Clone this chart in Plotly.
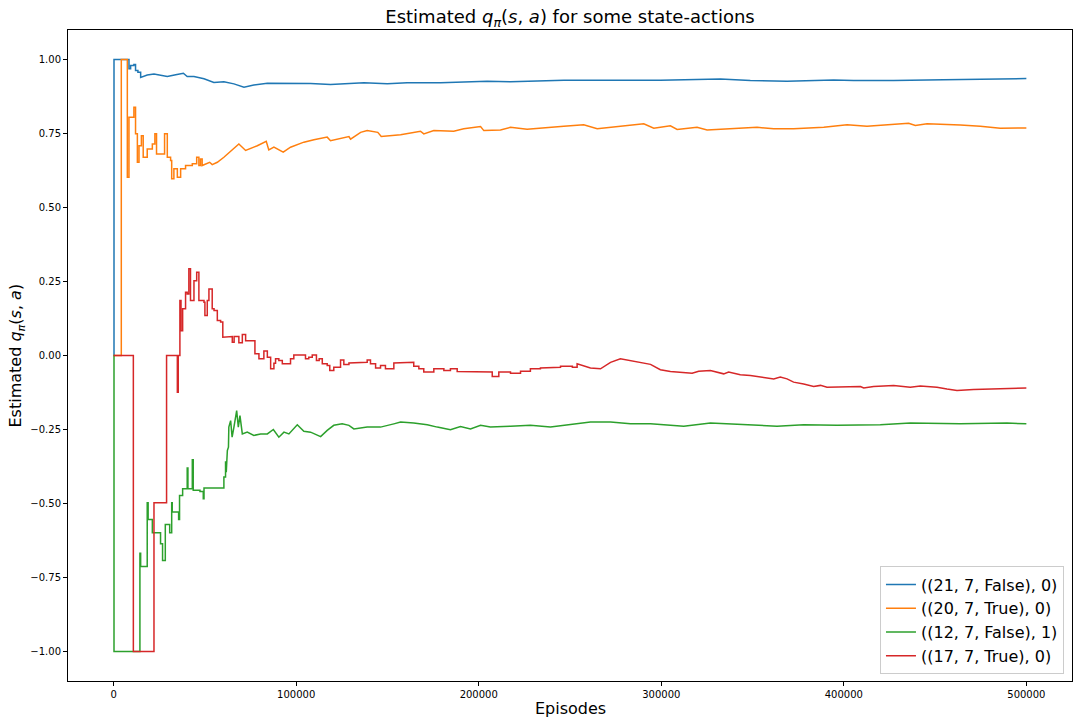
import plotly.graph_objects as go

# ---------------- data (episodes, estimated value) ----------------
labels = ["((21, 7, False), 0)", "((20, 7, True), 0)", "((12, 7, False), 1)", "((17, 7, True), 0)"]
colors = ["#1f77b4", "#ff7f0e", "#2ca02c", "#d62728"]

blue_ep = [0, 200, 8400, 9300, 11100, 12000, 13300, 14800, 18400, 22100, 25700, 29400, 34000, 38200,
           40300, 44000, 49500, 54900, 60400, 65900, 71400, 76800, 84200, 91400, 98700, 107900, 118800,
           137100, 149900, 160800, 179100, 204600, 217400, 246600, 279400, 299500, 332400, 348800,
           368900, 394400, 405400, 427300, 454700, 500000]
blue_q = [0.0, 1.0, 0.969, 0.980, 0.983, 0.963, 0.957, 0.940, 0.948, 0.951, 0.948, 0.943, 0.949, 0.954,
          0.943, 0.943, 0.935, 0.923, 0.925, 0.918, 0.907, 0.914, 0.920, 0.920, 0.921, 0.919, 0.916,
          0.922, 0.918, 0.922, 0.922, 0.927, 0.925, 0.930, 0.930, 0.930, 0.934, 0.929,
          0.927, 0.931, 0.929, 0.929, 0.932, 0.936]

orange_ep = [0, 4200, 7500, 8400, 11100, 12000, 13000, 13900, 15200, 16200, 18400, 21200, 22600, 23500,
             27900, 29400, 31200, 31800, 33000, 34900, 36700, 39400, 43100, 45500, 46700, 47600, 48500,
             52600, 54000, 56800, 60400, 64100, 68600, 72300, 76800, 78700, 83600, 85000, 87800, 92900,
             96900, 104200, 109700, 117000, 118800, 124300, 128900, 129800, 135300, 138900, 144700,
             146600, 157200, 168100, 169900, 175400, 186300, 191800, 201000, 202800, 211900, 217400,
             226500, 246600, 257500, 264900, 290400, 295900, 305000, 308700, 319600, 325100, 352500,
             361600, 372500, 389000, 401800, 412700, 435500, 439200, 445600, 463800, 474800, 485700, 500000]
orange_q = [0.0, 1.0, 0.602, 0.805, 0.839, 0.749, 0.653, 0.709, 0.743, 0.670, 0.698, 0.715, 0.749, 0.681,
            0.749, 0.670, 0.659, 0.597, 0.631, 0.602, 0.631, 0.642, 0.648, 0.670, 0.642, 0.664, 0.642,
            0.653, 0.645, 0.653, 0.670, 0.689, 0.715, 0.693, 0.704, 0.709, 0.724, 0.695, 0.704, 0.687,
            0.704, 0.721, 0.729, 0.738, 0.726, 0.734, 0.740, 0.731, 0.754, 0.760, 0.754,
            0.740, 0.746, 0.758, 0.749, 0.760, 0.758, 0.766, 0.774, 0.760, 0.762, 0.771,
            0.765, 0.775, 0.780, 0.766, 0.783, 0.768, 0.776, 0.764, 0.771, 0.762, 0.771,
            0.766, 0.766, 0.771, 0.780, 0.775, 0.785, 0.777, 0.783, 0.779, 0.775, 0.768, 0.769]

green_ep = [0, 200, 14400, 14800, 18400, 18900, 21200, 25700, 26800, 28300, 30700, 31800, 32100, 35600,
            36100, 37800, 40300, 40700, 43100, 43600, 47300, 49100, 49500, 60400, 61300, 61700, 62300,
            62900, 63100, 64100, 64900, 65900, 67400, 68300, 69200, 70500, 73200, 76800, 80500, 84200,
            87500, 90500, 93300, 96000, 98700, 100600, 104200, 107900, 113400, 117000, 120600, 125200,
            128900, 131600, 138900, 146200, 153500, 157200, 164400, 171800, 177300, 184500, 190000,
            195500, 201000, 206400, 217400, 228300, 239300, 248400, 261200, 272200, 283100, 294100,
            299500, 312300, 326900, 336100, 350600, 363400, 378000, 396300, 420000, 436400, 463800,
            489400, 500000]
green_q = [0.0, -1.0, -0.668, -0.713, -0.498, -0.554, -0.599, -0.636, -0.693, -0.571, -0.599, -0.498, -0.529, -0.554,
           -0.473, -0.450, -0.380, -0.450, -0.352, -0.455, -0.460, -0.484, -0.448, -0.411, -0.360, -0.394, -0.321,
           -0.310, -0.242, -0.220, -0.276, -0.242, -0.186, -0.242, -0.203, -0.265, -0.259, -0.270, -0.265, -0.265,
           -0.250, -0.276, -0.259, -0.265, -0.248, -0.234, -0.256, -0.259, -0.274, -0.253, -0.236, -0.231,
           -0.236, -0.248, -0.242, -0.242, -0.231, -0.225, -0.228, -0.234, -0.242, -0.251, -0.240,
           -0.248, -0.236, -0.242, -0.239, -0.236, -0.242, -0.234, -0.225, -0.225, -0.231, -0.231,
           -0.233, -0.239, -0.228, -0.231, -0.236, -0.239, -0.234, -0.236, -0.234, -0.228, -0.231,
           -0.228, -0.231]

red_ep = [0, 10800, 22100, 29000, 34900, 35400, 36300, 36900, 37800, 39400, 40300, 41200, 42100, 44000,
          45500, 46700, 49500, 50000, 51300, 52200, 54000, 55000, 56800, 58600, 59800, 62300, 65000,
          66000, 68600, 70500, 72300, 75900, 77400, 79600, 82300, 84200, 86000, 87800, 88700, 90500,
          92400, 96900, 98700, 104200, 105100, 106900, 108800, 111100, 112600, 114300, 117000, 118400,
          120600, 124300, 126100, 128900, 135300, 138900, 140700, 143500, 146200, 148900, 153500,
          160800, 164400, 167200, 169900, 175400, 180900, 184500, 188200, 202800, 207400, 211000,
          217400, 222900, 228300, 233800, 241100, 244800, 251300, 253900, 261200, 266700, 272200,
          277600, 284900, 294100, 299500, 305000, 316900, 320500, 326900, 334200, 336900, 343300,
          348800, 354300, 361600, 365200, 368900, 372500, 378000, 383500, 387200, 390800, 409100,
          410900, 416300, 427300, 436400, 441900, 451000, 456500, 462000, 471100, 482000, 493000, 500000]
red_q = [0.0, -1.0, -0.498, 0.0, -0.124, 0.0, 0.186, 0.084, 0.158, 0.214, 0.208, 0.293, 0.186, 0.253,
         0.281, 0.186, 0.180, 0.135, 0.186, 0.225, 0.158, 0.152, 0.118, 0.113, 0.062, 0.064, 0.045,
         0.064, 0.043, 0.071, 0.050, 0.050, 0.006, -0.011, 0.015, -0.006, -0.045, -0.026, -0.011, -0.017,
         -0.028, -0.011, 0.002, 0.002, -0.011, -0.006, 0.002, -0.017, -0.011, -0.028, -0.034, -0.051,
         -0.040, -0.015, -0.030, -0.025, -0.023, -0.015, -0.028, -0.042, -0.034, -0.045, -0.025,
         -0.023, -0.036, -0.045, -0.056, -0.045, -0.051, -0.045, -0.054, -0.056, -0.071, -0.056,
         -0.060, -0.053, -0.045, -0.042, -0.040, -0.036, -0.040, -0.028, -0.042, -0.045, -0.023,
         -0.011, -0.019, -0.030, -0.048, -0.054, -0.060, -0.053, -0.051, -0.062, -0.056, -0.065,
         -0.068, -0.073, -0.079, -0.073, -0.079, -0.090, -0.096, -0.105, -0.101, -0.107, -0.105,
         -0.110, -0.105, -0.101, -0.107, -0.103, -0.107, -0.113, -0.118, -0.115, -0.113, -0.110, -0.110]

# episode up to which each running average is drawn as visible steps
step_until = [15000, 50000, 62000, 260000]

x_ticks = [0, 100000, 200000, 300000, 400000, 500000]
y_ticks = [-1.0, -0.75, -0.5, -0.25, 0.0, 0.25, 0.5, 0.75, 1.0]

series = [(blue_ep, blue_q), (orange_ep, orange_q), (green_ep, green_q), (red_ep, red_q)]


def stepped(ep, q, until):
    xs, ys = [], []
    for i in range(len(ep)):
        xs.append(ep[i]); ys.append(q[i])
        if i + 1 < len(ep) and ep[i + 1] <= until:
            xs.append(ep[i + 1]); ys.append(q[i])
    return xs, ys


# ---------------- figure ----------------
fig = go.Figure()
for (ep, q), name, col, until in zip(series, labels, colors, step_until):
    xs, ys = stepped(ep, q, until)
    fig.add_trace(go.Scatter(x=xs, y=ys, mode="lines", name=name,
                             line=dict(color=col, width=1.5)))

font_family = "DejaVu Sans"
fig.update_layout(
    width=1079, height=724,
    margin=dict(l=68, r=7, t=30, b=43, autoexpand=False),
    paper_bgcolor="white", plot_bgcolor="white",
    font=dict(family=font_family, color="black"),
    title=dict(text="Estimated <i>q</i><sub><i>π</i></sub>(<i>s</i>, <i>a</i>) for some state-actions",
               x=0.5, xref="paper", xanchor="center", y=0.977, yref="container", yanchor="middle",
               font=dict(size=18, family=font_family, color="black")),
    legend=dict(x=0.992, y=0.01, xanchor="right", yanchor="bottom",
                bgcolor="rgba(255,255,255,0.8)", bordercolor="#cccccc", borderwidth=1,
                font=dict(size=16, family=font_family, color="black"), tracegroupgap=0),
    showlegend=True,
    annotations=[
        dict(text="Episodes", xref="paper", yref="paper", x=0.5, y=-0.0415,
             xanchor="center", yanchor="middle", showarrow=False,
             font=dict(size=16, family=font_family, color="black")),
        dict(text="Estimated <i>q</i><sub><i>π</i></sub>(<i>s</i>, <i>a</i>)", xref="paper", yref="paper",
             x=-0.0508, y=0.5, xanchor="center", yanchor="middle", textangle=-90, showarrow=False,
             font=dict(size=16, family=font_family, color="black")),
    ],
)
fig.update_xaxes(range=[-25000, 525000], tickmode="array", tickvals=x_ticks,
                 ticktext=[str(v) for v in x_ticks], automargin=False,
                 showgrid=False, zeroline=False, showline=True, mirror=True,
                 linecolor="black", linewidth=1, ticks="outside", ticklen=4, tickwidth=1,
                 tickcolor="black", tickfont=dict(size=10, family=font_family))
fig.update_yaxes(range=[-1.1, 1.1], tickmode="array", tickvals=y_ticks, tickformat=".2f",
                 automargin=False,
                 showgrid=False, zeroline=False, showline=True, mirror=True,
                 linecolor="black", linewidth=1, ticks="outside", ticklen=4, tickwidth=1,
                 tickcolor="black", tickfont=dict(size=10, family=font_family))

fig.write_html("out.html", config={"displayModeBar": False},
               post_script="document.body.style.margin='0px';")
